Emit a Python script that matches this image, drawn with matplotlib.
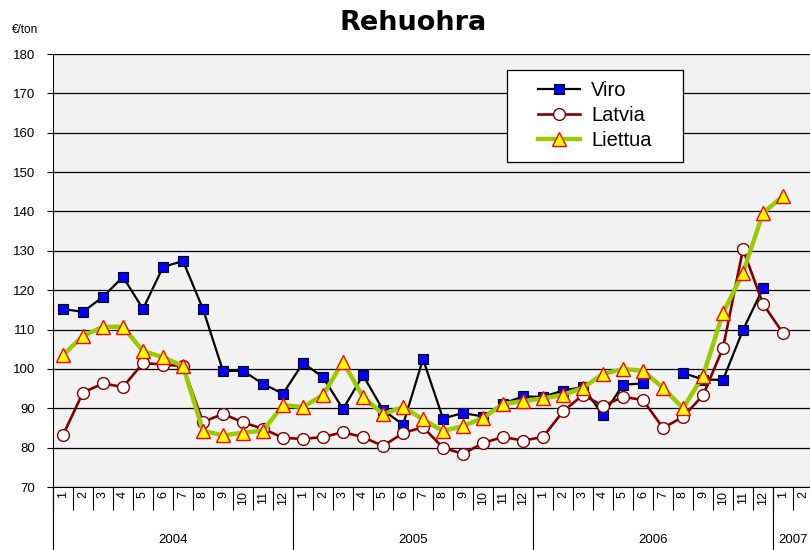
import numpy as np
import matplotlib.pyplot as plt
import matplotlib.transforms as mtransforms
from matplotlib.patches import Rectangle

plt.rcParams["font.family"] = ["Liberation Sans", "DejaVu Sans"]

# months 2004-01 .. 2007-02
years = ["2004", "2005", "2006", "2007"]
months_per_year = [12, 12, 12, 2]
month_labels = [str(m) for n in months_per_year for m in range(1, n + 1)]

nan = np.nan
viro = [115.2, 114.5, 118.3, 123.4, 115.2, 125.9, 127.4, 115.2, 99.5, 99.5, 96.2, 93.7,
        101.5, 97.9, 89.8, 98.4, 89.6, 85.8, 102.5, 87.4, 88.8, 87.9, 91.2, 93.0,
        92.9, 94.5, 95.4, 88.2, 96.0, 96.3, nan, 99.0, 97.3, 97.2, 109.9, 120.5,
        nan, nan]
latvia = [83.2, 94.0, 96.3, 95.4, 101.5, 101.1, 100.7, 86.5, 88.6, 86.4, 84.8, 82.5,
          82.2, 82.7, 83.9, 82.7, 80.4, 83.7, 85.2, 80.0, 78.4, 81.2, 82.7, 81.8,
          82.7, 89.2, 93.4, 90.6, 92.9, 92.1, 85.0, 87.8, 93.3, 105.3, 130.4, 116.5,
          109.1, nan]
liettua = [103.5, 108.4, 110.7, 110.7, 104.5, 103.0, 100.7, 84.3, 83.1, 83.8, 84.3, 90.8,
           90.3, 93.4, 101.8, 92.9, 88.5, 90.3, 87.2, 84.2, 85.5, 87.5, 91.1, 91.8,
           92.5, 93.4, 95.2, 98.7, 100.0, 99.5, 95.2, 90.0, 98.2, 114.2, 124.4, 139.6,
           143.9, nan]

x = np.arange(len(month_labels))

fig = plt.figure(figsize=(8.1, 5.5), dpi=100)
ax = fig.add_axes([53 / 810, 63 / 550, 760 / 810, 433 / 550])
ax.set_facecolor("#f2f2f2")

ax.plot(x, viro, color="black", lw=1.6, marker="s", ms=6.5,
        mfc="#0000ff", mec="black", mew=0.8, label="Viro", zorder=3)
ax.plot(x, latvia, color="#800000", lw=1.9, marker="o", ms=8.5,
        mfc="white", mec="#800000", mew=1.0, label="Latvia", zorder=4)
ax.plot(x, liettua, color="#99cc00", lw=3.2, marker="^", ms=9.5,
        mfc="#ffff00", mec="#ff0000", mew=1.0, label="Liettua", zorder=5)

ax.set_ylim(70, 180)
ax.set_yticks(np.arange(70, 181, 10))
ax.yaxis.grid(True, color="black", lw=0.9)
ax.set_axisbelow(True)
ax.set_xlim(-0.5, len(month_labels) - 0.5)

for s in ["top", "right"]:
    ax.spines[s].set_visible(False)
ax.spines["left"].set_color("black")
ax.spines["bottom"].set_color("black")
ax.tick_params(axis="y", labelsize=9.5, length=4, direction="out", pad=9)

ax.set_xticks(x)
ax.set_xticklabels(month_labels, rotation=90, fontsize=9)
ax.tick_params(axis="x", length=0, pad=3)

# category separators below the axis
trans = mtransforms.blended_transform_factory(ax.transData, ax.transAxes)
bounds = np.arange(len(month_labels) + 1) - 0.5
ax.vlines(bounds, -23 / 433, 0, transform=trans, color="black", lw=0.8, clip_on=False)
starts = np.concatenate([[0], np.cumsum(months_per_year)]) - 0.5
ax.vlines(starts[:-1], -63 / 433, 0, transform=trans, color="black", lw=0.8, clip_on=False)
for yr, a, b in zip(years, starts[:-1], starts[1:]):
    ax.text((a + b) / 2, -53 / 433, yr, transform=trans, ha="center", va="center",
            fontsize=9.5)

# legend box
box = Rectangle((0.597, 0.751), 0.232, 0.212, transform=ax.transAxes,
                facecolor="white", edgecolor="black", lw=0.9, zorder=6)
ax.add_patch(box)
leg = ax.legend(loc="center", bbox_to_anchor=(0.713, 0.857), fontsize=14.5,
                frameon=False, handlelength=2.1, handletextpad=0.55,
                labelspacing=0.3, borderpad=0)
leg.set_zorder(7)

fig.text(0.51, 0.958, "Rehuohra", ha="center", va="center", fontsize=19.5,
         fontweight="heavy", family="DejaVu Sans")
fig.text(12 / 810, 1 - 30 / 550, "€/ton", ha="left", va="center", fontsize=8.5)

fig.savefig("out.png", dpi=100)
